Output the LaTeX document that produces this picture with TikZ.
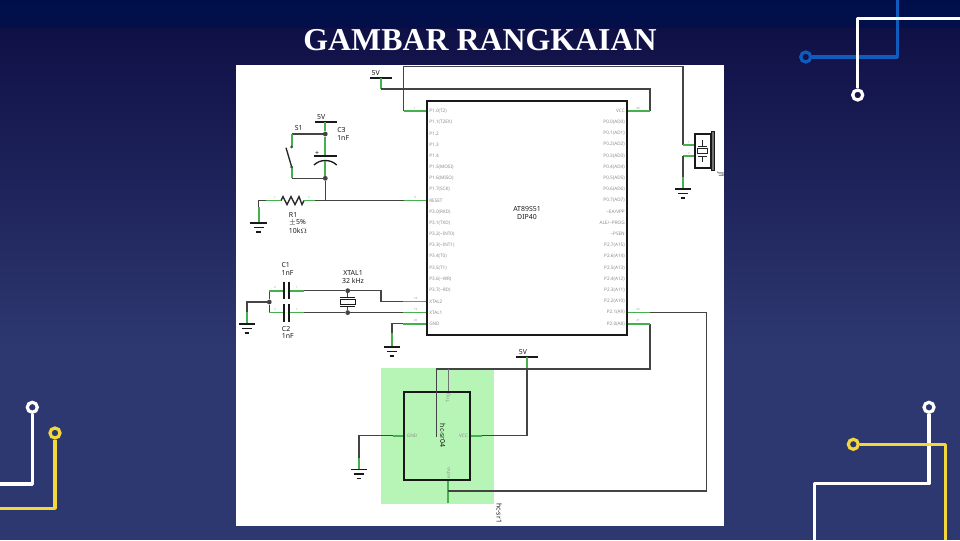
\documentclass[tikz,border=0pt]{standalone}
\usepackage{fontspec}
\setmainfont{Liberation Serif}
\newfontfamily\schemfont{Noto Sans}
\usetikzlibrary{calc}
\usetikzlibrary{positioning}
\definecolor{bgtop}{HTML}{000F4A}
\definecolor{bgmid}{HTML}{0F1046}
\definecolor{bgend}{HTML}{2E3870}
\definecolor{traceblue}{HTML}{0F5BBE}
\definecolor{traceyellow}{HTML}{F2D83C}
\definecolor{stubgreen}{HTML}{46B04E}
\definecolor{wiregray}{HTML}{444444}
\definecolor{zonegreen}{HTML}{B7F5B7}
\tikzset{
	ground/.pic={
		\draw[line width=1.2pt, black!90] (-8.3,0) -- (8.3,0);
		\draw[line width=1.2pt, black!90] (-5,4.6) -- (5,4.6);
		\draw[line width=1.2pt, black!90] (-2.4,9) -- (2.4,9);
	}
}
\begin{document}
\begin{tikzpicture}[x=0.75pt, y=-0.75pt, font=\schemfont]
    \tikzstyle{trace}=[line width=2.4pt, line join=round]
    \tikzstyle{ring}=[circle, line width=2.4pt, minimum size=7.5pt, inner sep=0pt]
    \tikzstyle{wire}=[draw=wiregray, line width=1pt]
    \tikzstyle{stub}=[draw=stubgreen, line width=1.25pt]
    \tikzstyle{body}=[draw=black!90, line width=1.3pt]
    \tikzstyle{dot}=[circle, fill=wiregray, minimum size=3.6pt, inner sep=0pt]
    \tikzstyle{lbl}=[inner sep=0pt, text=black!90, font=\schemfont\fontsize{5.2}{6}\selectfont]
    \tikzstyle{pinl}=[inner sep=0pt, anchor=west, text=black!45, font=\schemfont\fontsize{3.5}{4}\selectfont]
    \tikzstyle{pinr}=[inner sep=0pt, anchor=east, text=black!45, font=\schemfont\fontsize{3.5}{4}\selectfont]
    \tikzstyle{num}=[inner sep=0pt, text=black!40, font=\schemfont\fontsize{2.2}{3}\selectfont]

    % background and title
    \useasboundingbox (0,0) rectangle (960,540);
    \fill[bottom color=bgtop!80!bgmid, top color=bgtop] (0,0) rectangle (960,28);
    \fill[top color=bgmid, bottom color=bgend] (0,28) rectangle (960,350);
    \fill[bgend] (0,350) rectangle (960,540);
    \node[text=white, font=\rmfamily\bfseries\fontsize{23.9}{28}\selectfont, inner sep=0pt] (title) at (480,40) {GAMBAR RANGKAIAN};

    % corner traces
    \node[ring, draw=traceblue] (blue) at (805.7,57) {};
    \coordinate (blueb) at (897.3,57);
    \coordinate (bluee) at (897.3,0);
    \draw[trace, traceblue] (blue) -- (blueb) -- (bluee);
    \node[ring, draw=white] (wtr) at (857.7,95) {};
    \coordinate (wtrb) at (857.7,18.7);
    \coordinate (wtre) at (960,18.7);
    \draw[trace, white] (wtr) -- (wtrb) -- (wtre);
    \node[ring, draw=white] (wbr) at (929,407.3) {};
    \coordinate (wbrb) at (929,483.7);
    \coordinate (wbrc) at (814.3,483.7);
    \coordinate (wbre) at (814.3,540);
    \draw[trace, white] (wbr) -- (wbrb) -- (wbrc) -- (wbre);
    \node[ring, draw=traceyellow] (ybr) at (853.3,444.3) {};
    \coordinate (ybrb) at (945.3,444.3);
    \coordinate (ybre) at (945.3,540);
    \draw[trace, traceyellow] (ybr) -- (ybrb) -- (ybre);
    \node[ring, draw=white] (wbl) at (32.3,407.3) {};
    \coordinate (wblb) at (32.3,484);
    \coordinate (wble) at (0,484);
    \draw[trace, white] (wbl) -- (wblb) -- (wble);
    \node[ring, draw=traceyellow] (ybl) at (55,433) {};
    \coordinate (yblb) at (55,508.3);
    \coordinate (yble) at (0,508.3);
    \draw[trace, traceyellow] (ybl) -- (yblb) -- (yble);

    % sheet
    \fill[white] (236,65) rectangle (724,526);
    \node[fill=zonegreen, minimum width=85pt, minimum height=101.8pt, inner sep=0pt] (zone) at (437.3,435.8) {};

    % chip
    \node[body, minimum width=150pt, minimum height=175.5pt, inner sep=0pt] (chip) at (527,218) {};
    \node[lbl, align=center] (chipname) at (527,213) {AT89S51\\DIP40};
    \node[pinl] (p10) at (429,111) {P1.0(T2)};
    \node[pinl] (p11) at (429,122.2) {P1.1(T2EX)};
    \node[pinl] (p12) at (429,133.4) {P1.2};
    \node[pinl] (p13) at (429,144.6) {P1.3};
    \node[pinl] (p14) at (429,155.8) {P1.4};
    \node[pinl] (p15) at (429,167) {P1.5(MOSI)};
    \node[pinl] (p16) at (429,178.2) {P1.6(MISO)};
    \node[pinl] (p17) at (429,189.4) {P1.7(SCK)};
    \node[pinl] (rst) at (429,200.6) {RESET};
    \node[pinl] (p30) at (429,211.8) {P3.0(RXD)};
    \node[pinl] (p31) at (429,223) {P3.1(TXD)};
    \node[pinl] (p32) at (429,234.2) {P3.2(\textasciitilde INT0)};
    \node[pinl] (p33) at (429,245.4) {P3.3(\textasciitilde INT1)};
    \node[pinl] (p34) at (429,256.6) {P3.4(T0)};
    \node[pinl] (p35) at (429,267.8) {P3.5(T1)};
    \node[pinl] (p36) at (429,279) {P3.6(\textasciitilde WR)};
    \node[pinl] (p37) at (429,290.2) {P3.7(\textasciitilde RD)};
    \node[pinl] (xt2) at (429,301.4) {XTAL2};
    \node[pinl] (xt1) at (429,312.6) {XTAL1};
    \node[pinl] (gnd) at (429,323.8) {GND};
    \node[pinr] (vcc) at (625,111) {VCC};
    \node[pinr] (p00) at (625,122.2) {P0.0(AD0)};
    \node[pinr] (p01) at (625,133.4) {P0.1(AD1)};
    \node[pinr] (p02) at (625,144.6) {P0.2(AD2)};
    \node[pinr] (p03) at (625,155.8) {P0.3(AD3)};
    \node[pinr] (p04) at (625,167) {P0.4(AD4)};
    \node[pinr] (p05) at (625,178.2) {P0.5(AD5)};
    \node[pinr] (p06) at (625,189.4) {P0.6(AD6)};
    \node[pinr] (p07) at (625,200.6) {P0.7(AD7)};
    \node[pinr] (ea) at (625,211.8) {\textasciitilde EA/VPP};
    \node[pinr] (ale) at (625,223) {ALE/\textasciitilde PROG};
    \node[pinr] (psen) at (625,234.2) {\textasciitilde PSEN};
    \node[pinr] (p27) at (625,245.4) {P2.7(A15)};
    \node[pinr] (p26) at (625,256.6) {P2.6(A14)};
    \node[pinr] (p25) at (625,267.8) {P2.5(A13)};
    \node[pinr] (p24) at (625,279) {P2.4(A12)};
    \node[pinr] (p23) at (625,290.2) {P2.3(A11)};
    \node[pinr] (p22) at (625,301.4) {P2.2(A10)};
    \node[pinr] (p21) at (625,312.6) {P2.1(A9)};
    \node[pinr] (p20) at (625,323.8) {P2.0(A8)};

    % supply and speaker wiring
    \coordinate (p10a) at (403.5,111);
    \coordinate (p10b) at (403.5,66.7);
    \coordinate (j1top) at (683,66.7);
    \coordinate (j1a) at (683,145);
    \coordinate (j1b) at (683,156);
    \coordinate (j1c) at (683,176.7);
    \coordinate (j1g) at (683,189);
    \draw[wire] (p10a) -- (p10b) -- (j1top) -- (j1a);
    \draw[stub] (p10a) -- (chip.west |- p10a);
    \coordinate (vup) at (381,77.7);
    \coordinate (vupb) at (381,89);
    \coordinate (vupc) at (650,89);
    \coordinate (vupd) at (650,111);
    \draw[body] (370,77.7) -- (392,77.7);
    \node[lbl, above=1.5pt of vup, xshift=-4pt] (vuplabel) {5V};
    \draw[stub] (vup) -- (vupb);
    \draw[wire] (vupb) -- (vupc) -- (vupd);
    \draw[stub] (vupd) -- (chip.east |- vupd);

    % speaker
    \node[body, minimum width=11.8pt, minimum height=25.5pt, inner sep=0pt] (j1) at (702.9,151) {};
    \node[draw=black!90, fill=black!55, minimum width=2.6pt, minimum height=29.8pt, inner sep=0pt, line width=0.7pt] (j1bar) at (712.9,151) {};
    \node[draw=black!85, line width=0.7pt, minimum width=7.6pt, minimum height=4.2pt, inner sep=0pt] (j1core) at (702.4,150.8) {};
    \draw[line width=0.7pt, black!85] (702.4,140) -- (702.4,146);
    \draw[line width=0.7pt, black!85] (697.5,146) -- (707.3,146);
    \draw[line width=0.7pt, black!85] (697.5,156) -- (707.3,156);
    \draw[line width=0.7pt, black!85] (702.4,156) -- (702.4,161.7);
    \draw[stub] (j1a) -- (j1.west |- j1a);
    \draw[stub] (j1b) -- (j1.west |- j1b);
    \draw[wire] (j1b) -- (j1c);
    \draw[stub] (j1c) -- (j1g);
    \pic at (j1g) {ground};
    \node[lbl, rotate=-90] (j1label) at (720.7,175) {J1};

    % reset network
    \coordinate (rv) at (325.3,122.3);
    \node[dot] (rtop) at (325.3,134) {};
    \node[dot] (rmid) at (325.3,178.3) {};
    \coordinate (rjoin) at (325.3,200.6);
    \coordinate (c3p) at (325.3,156);
    \coordinate (c3n) at (325.3,160.5);
    \coordinate (s1a) at (291.7,134);
    \coordinate (s1b) at (291.7,147);
    \coordinate (s1c) at (291.7,167);
    \coordinate (s1d) at (291.7,178.3);
    \coordinate (rsta) at (403.5,200.6);
    \draw[body] (314.7,122.3) -- (336.5,122.3);
    \node[lbl, above=1.5pt of rv, xshift=-3pt] (rvlabel) {5V};
    \draw[stub] (rv) -- (rtop);
    \draw[stub] (rtop) -- (c3p);
    \draw[body] (314,156) -- (336.7,156);
    \draw[body, line width=1pt] (314,165) .. controls (320,159) and (330.6,159) .. (336.7,165);
    \draw[stub] (c3n) -- (rmid);
    \draw[wire] (rmid) -- (rjoin);
    \draw[wire] (rtop) -- (s1a);
    \draw[stub] (s1a) -- (s1b);
    \draw[line width=1pt, black!85] (286,147.7) -- (s1c);
    \draw[stub] (s1c) -- (s1d);
    \draw[wire] (s1d) -- (rmid);
    \node[dot, minimum size=2.2pt] (s1dota) at (s1b) {};
    \node[dot, minimum size=2.2pt] (s1dotb) at (s1c) {};
    \node[lbl] (plus) at (317,153) {+};
    \node[lbl] (s1label) at (298.7,128) {S1};
    \node[lbl, anchor=west] (c3label) at (337,130) {C3};
    \node[lbl, anchor=west] (c3val) at (337,138) {1nF};
    \draw[wire] (rjoin) -- (rsta);
    \draw[stub] (rsta) -- (chip.west |- rsta);
    \coordinate (r1a) at (281,200.6);
    \coordinate (r1b) at (304,200.6);
    \coordinate (r1c) at (266,200.6);
    \coordinate (r1d) at (258.7,200.6);
    \coordinate (r1e) at (258.7,206.7);
    \coordinate (r1g) at (258.7,223);
    \coordinate (r1f) at (315,200.6);
    \draw[line width=1pt, black!85] (r1a) -- ++(2,-4) -- ++(4,8) -- ++(4,-8) -- ++(4,8) -- ++(4,-8) -- ++(3,8) -- (r1b);
    \draw[stub] (r1b) -- (r1f);
    \draw[wire] (r1f) -- (rjoin);
    \draw[stub] (r1a) -- (r1c);
    \draw[wire] (r1c) -- (r1d) -- (r1e);
    \draw[stub] (r1e) -- (r1g);
    \pic at (r1g) {ground};
    \node[lbl, anchor=west] (r1label) at (288.7,215) {R1};
    \node[lbl, anchor=west] (r1tol) at (288.7,223) {$\pm$5\%};
    \node[lbl, anchor=west] (r1val) at (288.7,231) {10k$\Omega$};

    % oscillator
    \node[dot] (xcl) at (269.3,302) {};
    \node[dot] (xtop) at (347.7,290.7) {};
    \node[dot] (xbot) at (347.7,312.6) {};
    \coordinate (c1l) at (269.3,290.7);
    \coordinate (c2l) at (269.3,312.6);
    \coordinate (c1a) at (283.7,290.7);
    \coordinate (c1b) at (288.7,290.7);
    \coordinate (c1r) at (304.3,290.7);
    \coordinate (c2a) at (283.7,312.6);
    \coordinate (c2b) at (288.7,312.6);
    \coordinate (c2r) at (304.3,312.6);
    \coordinate (xbend) at (381,290.7);
    \coordinate (xdown) at (381,301.4);
    \coordinate (xt2a) at (403,301.4);
    \coordinate (xt1a) at (403,312.6);
    \draw[wire] (c1l) -- (xcl) -- (c2l);
    \draw[stub] (c1l) -- (c1a);
    \draw[stub] (c2l) -- (c2a);
    \draw[stub] (c1b) -- (c1r);
    \draw[stub] (c2b) -- (c2r);
    \draw[line width=1.3pt, black!90] (283.7,281.7) -- (283.7,299.3);
    \draw[line width=1.3pt, black!90] (288.7,281.7) -- (288.7,299.3);
    \draw[line width=1.3pt, black!90] (283.7,304) -- (283.7,321.7);
    \draw[line width=1.3pt, black!90] (288.7,304) -- (288.7,321.7);
    \draw[wire] (c1r) -- (xtop) -- (xbend) -- (xdown) -- (xt2a);
    \draw[wire] (c2r) -- (xbot) -- (xt1a);
    \draw[stub] (xt2a) -- (chip.west |- xt2a);
    \draw[stub] (xt1a) -- (chip.west |- xt1a);
    \node[draw=black!90, line width=0.8pt, minimum width=11.2pt, minimum height=4pt, inner sep=0pt] (xtal) at (347.7,301.7) {};
    \draw[line width=1pt, black!90] (340,297.3) -- (355.3,297.3);
    \draw[line width=1pt, black!90] (340,306.7) -- (355.3,306.7);
    \draw[wire] (xtop) -- (347.7,297.3);
    \draw[wire] (347.7,306.7) -- (xbot);
    \coordinate (xg) at (247,302);
    \coordinate (xgb) at (247,311.7);
    \coordinate (xgc) at (247,324);
    \draw[wire] (xcl) -- (xg) -- (xgb);
    \draw[stub] (xgb) -- (xgc);
    \pic at (xgc) {ground};
    \node[lbl] (xlabel) at (353,273) {XTAL1};
    \node[lbl] (xval) at (353,281) {32 kHz};
    \node[lbl, anchor=west] (c1label) at (281.3,265) {C1};
    \node[lbl, anchor=west] (c1val) at (281.3,273) {1nF};
    \node[lbl, anchor=west] (c2label) at (281.6,328.7) {C2};
    \node[lbl, anchor=west] (c2val) at (281.6,336) {1nF};
    \coordinate (gnda) at (402.7,323.8);
    \coordinate (gndb) at (392,323.8);
    \coordinate (gndc) at (392,333);
    \coordinate (gndg) at (392,346.7);
    \draw[stub] (gnda) -- (chip.west |- gnda);
    \draw[wire] (gnda) -- (gndb) -- (gndc);
    \draw[stub] (gndc) -- (gndg);
    \pic at (gndg) {ground};

    % sensor
    \node[body, line width=1.5pt, minimum width=49.5pt, minimum height=66pt, inner sep=0pt] (sensor) at (437.3,436) {};
    \coordinate (sv) at (527,357.3);
    \coordinate (svb) at (527,369);
    \coordinate (svc) at (527,435.7);
    \coordinate (svd) at (481.7,435.7);
    \draw[body] (515.7,357.3) -- (537.7,357.3);
    \node[lbl, above=1.5pt of sv, xshift=-3pt] (svlabel) {5V};
    \draw[wire] (svb) -- (svc) -- (svd);
    \draw[stub] (sv) -- (svb);
    \draw[stub] (svd) -- (sensor.east |- svd);
    \coordinate (trga) at (436.7,369);
    \coordinate (trgb) at (436.7,436.7);
    \coordinate (trgc) at (650,369);
    \coordinate (trgd) at (650,323.8);
    \coordinate (trge) at (448.3,369);
    \draw[wire] (trgb) -- (trga) -- (trgc) -- (trgd);
    \draw[stub] (trgd) -- (chip.east |- trgd);
    \draw[wire, draw=black!55] (trge) -- (trge |- sensor.north);
    \coordinate (sga) at (393,435.7);
    \coordinate (sgb) at (359,435.7);
    \coordinate (sgc) at (359,458);
    \coordinate (sgd) at (359,469.3);
    \draw[stub] (sga) -- (sensor.west |- sga);
    \draw[wire] (sga) -- (sgb) -- (sgc);
    \draw[stub] (sgc) -- (sgd);
    \pic at (sgd) {ground};
    \coordinate (ecoa) at (448.3,503.3);
    \coordinate (ecob) at (448.3,491);
    \coordinate (ecoc) at (706.7,491);
    \coordinate (ecod) at (706.7,312.6);
    \coordinate (ecoe) at (650,312.6);
    \draw[stub] (ecoa) -- (ecoa |- sensor.south);
    \draw[wire] (ecob) -- (ecoc) -- (ecod) -- (ecoe);
    \draw[stub] (ecoe) -- (chip.east |- ecoe);
    \node[pinl] (sgnd) at (406.7,435.7) {GND};
    \node[pinr] (svcc) at (468,435.7) {VCC};
    \node[inner sep=0pt, text=black!45, font=\schemfont\fontsize{3.5}{4}\selectfont, rotate=90] (strig) at (448.3,398) {Trig};
    \node[inner sep=0pt, text=black!45, font=\schemfont\fontsize{3.5}{4}\selectfont, rotate=90] (secho) at (448.3,473) {echo};
    \node[lbl, rotate=-90] (sname) at (442.7,435.7) {hc-sr04};
    \node[lbl, rotate=-90] (zname) at (499.3,513) {hc-sr1};

    % pin numbers
    \node[num] (n1) at (415,108) {1};
    \node[num] (n9) at (415,197.5) {9};
    \node[num] (n18) at (415.5,298.3) {18};
    \node[num] (n19) at (415.5,309.5) {19};
    \node[num] (n20) at (415.5,320.8) {20};
    \node[num] (n40) at (638,108) {40};
    \node[num] (n22) at (638,309.5) {22};
    \node[num] (n21) at (638,320.8) {21};
    \node[num] (nj1) at (689,142) {1};
    \node[num] (nj2) at (689,153) {2};
    \node[num] (nc1a) at (275,287.8) {2};
    \node[num] (nc1b) at (297,287.8) {1};
    \node[num] (nc2a) at (275,309.7) {2};
    \node[num] (nc2b) at (297,309.7) {1};
    \node[num] (nr1a) at (275,197.8) {1};
    \node[num] (nr1b) at (309,197.8) {2};
\end{tikzpicture}
\end{document}
